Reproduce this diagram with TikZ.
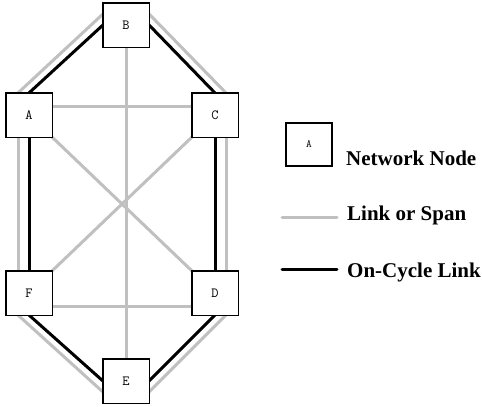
\documentclass[tikz,border=0pt]{standalone}
\usepackage{fontspec}
\setmainfont{Liberation Serif}
\usetikzlibrary{calc}
\definecolor{linkgray}{RGB}{192,192,192}
\begin{document}
\begin{tikzpicture}[x=1pt,y=-1pt,
  netnode/.style={draw=black,line width=1.1pt,fill=white,minimum width=45pt,minimum height=43pt,inner sep=0pt,font=\ttfamily\fontsize{14}{16}\selectfont},
  span/.style={draw=linkgray,line width=3pt},
  cyc/.style={draw=black,line width=3pt},
  legtext/.style={anchor=base west,inner sep=0pt,font=\fontsize{21}{25}\selectfont\bfseries}]
\useasboundingbox[fill=white] (0,0) rectangle (482,407);
% nodes (placed first for names; redrawn on top of links below)
\path (126,25) node[netnode] (B) {B};
\path (29,115) node[netnode] (A) {A};
\path (215,115) node[netnode] (C) {C};
\path (29,293) node[netnode] (F) {F};
\path (215,293) node[netnode] (D) {D};
\path (126,381) node[netnode] (E) {E};
% spans (gray)
\draw[span] ($(A.east)+(0,-9)$) -- ($(C.west)+(0,-9)$);
\draw[span] ($(F.east)+(0,13)$) -- ($(D.west)+(0,13)$);
\draw[span] (B.south) -- (E.north);
\draw[span] (A.south east) -- (D.north west);
\draw[span] (C.south west) -- (F.north east);
\draw[span] ($(A.north)+(-11,0)$) -- ($(B.west)+(0,-11)$);
\draw[span] ($(B.east)+(0,-11)$) -- ($(C.north)+(11,0)$);
\draw[span] ($(A.south)+(-11,0)$) -- ($(F.north)+(-11,0)$);
\draw[span] ($(C.south)+(11,0)$) -- ($(D.north)+(11,0)$);
\draw[span] ($(F.south)+(-11,0)$) -- ($(E.west)+(0,11)$);
\draw[span] ($(D.south)+(11,0)$) -- ($(E.east)+(0,11)$);
% cycle (black)
\draw[cyc] (A.north) -- (B.west);
\draw[cyc] (B.east) -- (C.north);
\draw[cyc] (A.south) -- (F.north);
\draw[cyc] (C.south) -- (D.north);
\draw[cyc] (F.south) -- (E.west);
\draw[cyc] (D.south) -- (E.east);
% redraw boxes on top of the links
\foreach \n in {B,A,C,F,D,E}{
  \draw[line width=1.1pt,fill=white] (\n.north west) rectangle (\n.south east);
  \node[font=\ttfamily\fontsize{14}{16}\selectfont] at (\n) {\n};
}
% legend
\node[netnode,minimum width=46pt,font=\ttfamily\fontsize{11}{13}\selectfont] (L) at (309,144.5) {A};
\node[legtext] (t1) at (346,165) {Network Node};
\coordinate (g1) at (282,217);
\coordinate (g2) at (337,217);
\draw[span,line cap=round] (g1) -- (g2);
\node[legtext] (t2) at (347,220) {Link or Span};
\coordinate (k1) at (282,269);
\coordinate (k2) at (337,269);
\draw[cyc,line cap=round] (k1) -- (k2);
\node[legtext] (t3) at (347,277) {On-Cycle Link};
\end{tikzpicture}
\end{document}
